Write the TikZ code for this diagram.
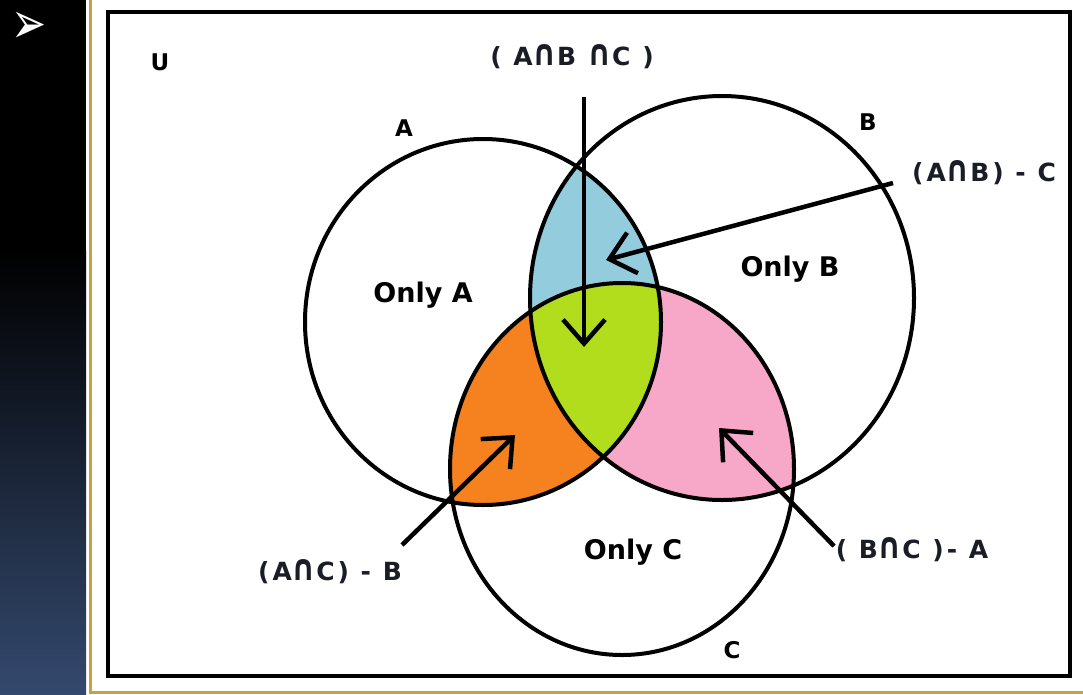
\documentclass[tikz,border=0pt]{standalone}
\usepackage{fontspec}
\usepackage{graphicx}
\setmainfont{DejaVu Sans}
\usetikzlibrary{arrows.meta}
\definecolor{regblue}{HTML}{93CDDD}
\definecolor{reggreen}{HTML}{B2DD1C}
\definecolor{regorange}{HTML}{F6821F}
\definecolor{regpink}{HTML}{F7A7C8}
\definecolor{framegold}{HTML}{C9A13D}
\definecolor{slatenavy}{HTML}{34496E}
\definecolor{labelink}{HTML}{1A1C26}

% the three sets
\newcommand{\ringA}{(483,322) ellipse [x radius=178, y radius=183]}
\newcommand{\ringB}{(722,298) ellipse [x radius=192, y radius=202]}
\newcommand{\ringC}{(622,469) ellipse [x radius=172, y radius=186]}
% tall cap sign
\newcommand{\capsym}{\scalebox{1.2}[1.45]{∩}}

\begin{document}
\begin{tikzpicture}[
  x=1pt, y=-1pt,
  ring/.style={line width=4pt},
  lbl/.style={font=\fontsize{27}{30}\selectfont\bfseries},
  namelbl/.style={font=\fontsize{23}{26}\selectfont\bfseries},
  setlbl/.style={font=\fontsize{25}{28}\selectfont\bfseries\addfontfeature{LetterSpace=12}, text=labelink},
  arr/.style={line width=4.5pt, -{Straight Barb[length=24pt, width=42pt, line width=4.5pt]}}
]
\useasboundingbox (0,0) rectangle (1083,694);

% slide background
\fill[white] (0,0) rectangle (1083,694);
\fill[black] (0,0) rectangle (86,694);
\shade[top color=black, bottom color=slatenavy] (0,250) rectangle (86,694);
\node[text=white, inner sep=0pt, font=\fontsize{42}{44}\selectfont] (bullet) at (29,28) {\scalebox{1}[1.4]{➢}};
\draw[framegold, line width=2.5pt] (90.5,0) -- (90.5,692.5) -- (1083,692.5);
\draw[line width=4pt] (108,12) rectangle (1070,676);

% shaded regions
\begin{scope}
  \clip \ringA; \fill[regblue] \ringB;
\end{scope}
\begin{scope}
  \clip \ringA; \fill[regorange] \ringC;
\end{scope}
\begin{scope}
  \clip \ringB; \fill[regpink] \ringC;
\end{scope}
\begin{scope}
  \clip \ringA; \clip \ringB; \fill[reggreen] \ringC;
\end{scope}

% circles
\draw[ring] \ringA;
\draw[ring] \ringB;
\draw[ring] \ringC;

% names
\node[namelbl] (nameU) at (160,62) {U};
\node[namelbl] (nameA) at (404,128) {A};
\node[namelbl] (nameB) at (868,122) {B};
\node[namelbl] (nameC) at (732,650) {C};

\node[lbl] (onlyA) at (423,295) {Only A};
\node[lbl] (onlyB) at (790,269) {Only B};
\node[lbl] (onlyC) at (633,552) {Only C};

\node[setlbl] (lblABC) at (572,57) {( A\capsym B \capsym C )};
\node[setlbl] (lblABmC) at (984,173) {(A\capsym B) - C};
\node[setlbl] (lblACmB) at (330,572) {(A\capsym C) - B};
\node[setlbl] (lblBCmA) at (912,550) {( B\capsym C )- A};

% pointers
\coordinate (abcTail) at (584,97);
\coordinate (abcTip) at (584,347);
\coordinate (abTail) at (893,183);
\coordinate (abTip) at (606,260);
\coordinate (acTail) at (402,545);
\coordinate (acTip) at (515,435);
\coordinate (bcTail) at (834,546);
\coordinate (bcTip) at (719,428);

\draw[arr] (abcTail) -- (abcTip);
\draw[arr] (abTail) -- (abTip);
\draw[arr] (acTail) -- (acTip);
\draw[arr] (bcTail) -- (bcTip);

\end{tikzpicture}
\end{document}
